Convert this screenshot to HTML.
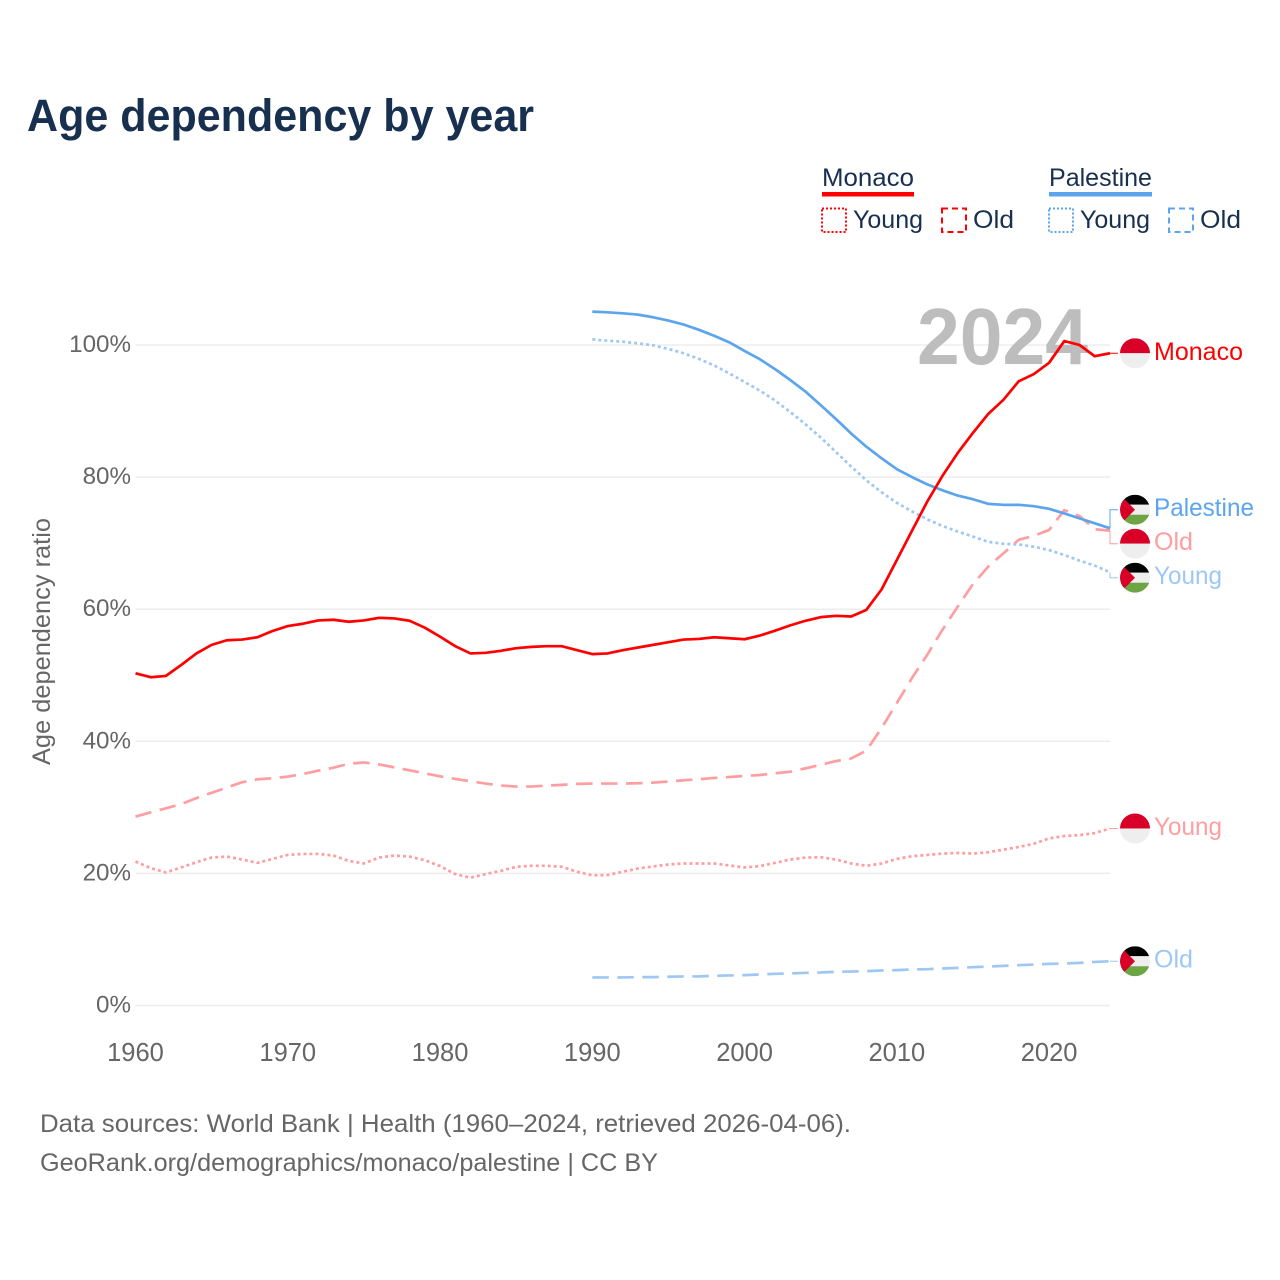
<!DOCTYPE html>
<html lang="en">
<head>
<meta charset="utf-8">
<title>Age dependency by year</title>
<style>
html,body{margin:0;padding:0;background:#fff;}
svg{display:block;font-family:"Liberation Sans",sans-serif;}
</style>
</head>
<body>
<svg id="chart" xmlns="http://www.w3.org/2000/svg" width="1280" height="1280" viewBox="0 0 1280 1280">
  <defs>
    <clipPath id="flag-clip"><circle cx="0" cy="0" r="15"/></clipPath>
  </defs>
  <rect x="0" y="0" width="1280" height="1280" fill="#fff"/>
  <text x="27" y="131" font-size="45" font-weight="700" fill="#18304f" textLength="507" lengthAdjust="spacingAndGlyphs">Age dependency by year</text>

  <g font-size="25" fill="#18304f">
    <g>
      <text x="822" y="186" textLength="92" lengthAdjust="spacingAndGlyphs">Monaco</text>
      <rect x="822" y="192" width="92" height="4.5" fill="#ff0000"/>
    </g>
    <g>
      <rect x="822" y="208.500" width="24" height="23.500" fill="none" stroke="#ff0000" stroke-width="2" stroke-dasharray="2 2"/>
      <text x="853" y="228" textLength="70" lengthAdjust="spacingAndGlyphs">Young</text>
    </g>
    <g>
      <rect x="942" y="208.500" width="24" height="23.500" fill="none" stroke="#ff0000" stroke-width="2" stroke-dasharray="6 4"/>
      <text x="973" y="228" textLength="41" lengthAdjust="spacingAndGlyphs">Old</text>
    </g>
    <g>
      <text x="1049" y="186" textLength="103" lengthAdjust="spacingAndGlyphs">Palestine</text>
      <rect x="1049" y="192" width="103" height="4.5" fill="#5ca5ee"/>
    </g>
    <g>
      <rect x="1049" y="208.500" width="24" height="23.500" fill="none" stroke="#5ca5ee" stroke-width="2" stroke-dasharray="2 2"/>
      <text x="1080" y="228" textLength="70" lengthAdjust="spacingAndGlyphs">Young</text>
    </g>
    <g>
      <rect x="1169" y="208.500" width="24" height="23.500" fill="none" stroke="#5ca5ee" stroke-width="2" stroke-dasharray="6 4"/>
      <text x="1200" y="228" textLength="41" lengthAdjust="spacingAndGlyphs">Old</text>
    </g>
  </g>

  <g id="grid"></g>
  <text x="917" y="364" font-size="80" font-weight="700" fill="#bdbdbd" textLength="171" lengthAdjust="spacingAndGlyphs">2024</text>
  <g id="y-ticks"></g>
  <g id="x-ticks"></g>
  <text transform="translate(50 641.500) rotate(-90)" text-anchor="middle" font-size="25" fill="#666" textLength="247" lengthAdjust="spacingAndGlyphs">Age dependency ratio</text>
  <g id="lines"></g>
  <g id="labels"></g>

  <text x="40" y="1132" font-size="25" fill="#666" textLength="811" lengthAdjust="spacingAndGlyphs">Data sources: World Bank | Health (1960–2024, retrieved 2026-04-06).</text>
  <text x="40" y="1171" font-size="25" fill="#666" textLength="618" lengthAdjust="spacingAndGlyphs">GeoRank.org/demographics/monaco/palestine | CC BY</text>
</svg>
<script>
const monacoFirstYear = 1960;
const palestineFirstYear = 1990;
const xTickLabels = [1960, 1970, 1980, 1990, 2000, 2010, 2020];
const yTickLabels = [0, 20, 40, 60, 80, 100];

const monacoTotal = [
  50.3,49.7,49.9,51.55,53.3,54.6,55.3,55.4,55.75,56.7,
  57.45,57.8,58.3,58.4,58.1,58.3,58.7,58.6,58.25,57.2,
  55.85,54.4,53.3,53.4,53.7,54.1,54.3,54.4,54.4,53.8,
  53.2,53.3,53.8,54.2,54.6,55.0,55.4,55.5,55.75,55.6,
  55.45,56.0,56.75,57.55,58.25,58.8,59.0,58.9,59.9,63.0,
  67.45,71.9,76.3,80.2,83.65,86.7,89.55,91.7,94.5,95.6,
  97.3,100.6,100.0,98.3,98.75
];
const monacoYoung = [
  21.8,20.8,20.15,20.9,21.7,22.4,22.55,22.1,21.6,22.2,
  22.8,22.95,22.95,22.7,21.9,21.5,22.4,22.7,22.55,22.0,
  21.1,19.9,19.35,19.9,20.4,21.0,21.15,21.15,21.0,20.25,
  19.7,19.75,20.25,20.75,21.05,21.35,21.5,21.5,21.5,21.2,
  20.9,21.1,21.6,22.1,22.4,22.45,22.1,21.5,21.15,21.5,
  22.2,22.6,22.8,23.0,23.1,23.0,23.2,23.6,24.0,24.5,
  25.3,25.65,25.8,26.1,26.8
];
const monacoOld = [
  28.6,29.25,29.85,30.5,31.4,32.2,33.0,33.8,34.25,34.4,
  34.65,35.05,35.55,36.0,36.6,36.8,36.5,36.05,35.6,35.15,
  34.7,34.3,33.95,33.6,33.3,33.15,33.15,33.3,33.4,33.55,
  33.6,33.6,33.6,33.65,33.75,33.9,34.1,34.25,34.45,34.6,
  34.75,34.9,35.15,35.4,35.9,36.45,37.0,37.4,38.6,42.0,
  45.8,49.6,53.1,56.9,60.4,63.8,66.45,68.45,70.5,71.1,
  72.0,75.0,74.1,72.1,71.9
];
const palestineTotal = [
  105.05,104.95,104.8,104.6,104.2,103.7,103.1,102.3,101.4,100.4,
  99.1,97.85,96.35,94.7,92.95,90.9,88.8,86.6,84.6,82.85,
  81.2,80.0,78.9,78.0,77.2,76.65,75.95,75.8,75.8,75.6,
  75.2,74.5,73.75,73.0,72.25
];
const palestineYoung = [
  100.85,100.65,100.5,100.25,99.95,99.4,98.75,97.9,96.9,95.7,
  94.4,93.1,91.6,89.85,88.0,86.0,83.8,81.6,79.5,77.7,
  76.1,74.8,73.6,72.6,71.75,71.0,70.2,69.9,69.8,69.45,
  68.95,68.2,67.35,66.6,65.6
];
const palestineOld = [
  4.25,4.25,4.25,4.3,4.3,4.35,4.4,4.4,4.5,4.55,
  4.6,4.7,4.8,4.85,4.95,5.0,5.1,5.15,5.2,5.3,
  5.35,5.45,5.5,5.6,5.7,5.8,5.9,6.0,6.1,6.2,
  6.3,6.35,6.45,6.6,6.7
];

const NS = 'http://www.w3.org/2000/svg';
const plot = { left: 135.5, right: 1110, y0: 1005.5, y100: 345 };
function xScale(year) { return plot.left + (year - 1960) * (plot.right - plot.left) / 64; }
function yScale(v) { return plot.y0 + v * (plot.y100 - plot.y0) / 100; }
function make(tag, attrs, parent) {
  const el = document.createElementNS(NS, tag);
  for (const k in attrs) el.setAttribute(k, attrs[k]);
  parent.appendChild(el);
  return el;
}

const gridG = document.getElementById('grid');
const yTickG = document.getElementById('y-ticks');
yTickLabels.forEach(function (t) {
  const line = make('line', { x1: plot.left, x2: plot.right, y1: yScale(t), y2: yScale(t), stroke: '#eeeeee', 'stroke-width': 1.5 }, gridG);
  
  
  const lab = make('text', { x: 131, y: yScale(t) + 7, 'text-anchor': 'end', 'font-size': 24.2, fill: '#666' }, yTickG);
  lab.textContent = t + '%';
  
  
});

const xTickG = document.getElementById('x-ticks');
xTickLabels.forEach(function (t) {
  const lab = make('text', { x: xScale(t), y: 1061, 'text-anchor': 'middle', 'font-size': 25.5, fill: '#666' }, xTickG);
  lab.textContent = t;
  
  
});

const DOT = '3 3';
const DASH = '16.5 8.5';
const RED = '#ff0000', RED_L = '#ff9ea0', BLUE = '#5ca5ee', BLUE_L = '#9ec8f3';

const lineDefs = [
  { key: 'palestine-old-line', vals: palestineOld, first: palestineFirstYear, color: BLUE_L, dash: DASH },
  { key: 'palestine-young-line', vals: palestineYoung, first: palestineFirstYear, color: BLUE_L, dash: DOT },
  { key: 'monaco-young-line', vals: monacoYoung, first: monacoFirstYear, color: RED_L, dash: DOT },
  { key: 'monaco-old-line', vals: monacoOld, first: monacoFirstYear, color: RED_L, dash: DASH },
  { key: 'palestine-total-line', vals: palestineTotal, first: palestineFirstYear, color: BLUE, dash: null },
  { key: 'monaco-total-line', vals: monacoTotal, first: monacoFirstYear, color: RED, dash: null }
];

const linesG = document.getElementById('lines');
lineDefs.forEach(function (s) {
  const d = s.vals.map(function (v, i) {
    return (i ? 'L' : 'M') + xScale(s.first + i).toFixed(2) + ',' + yScale(v).toFixed(2);
  }).join(' ');
  const attrs = { d: d, fill: 'none', stroke: s.color, 'stroke-width': 2.7, 'stroke-linejoin': 'round' };
  if (s.dash) attrs['stroke-dasharray'] = s.dash;
  const p = make('path', attrs, linesG);
  
  
});

const labelDefs = [
  { key: 'monaco-total', text: 'Monaco', vals: monacoTotal, color: RED, flag: 'mc', w: 89 },
  { key: 'palestine-total', text: 'Palestine', vals: palestineTotal, color: BLUE, flag: 'ps', w: 100 },
  { key: 'monaco-old', text: 'Old', vals: monacoOld, color: RED_L, flag: 'mc', w: 39 },
  { key: 'palestine-young', text: 'Young', vals: palestineYoung, color: BLUE_L, flag: 'ps', w: 68 },
  { key: 'monaco-young', text: 'Young', vals: monacoYoung, color: RED_L, flag: 'mc', w: 68 },
  { key: 'palestine-old', text: 'Old', vals: palestineOld, color: BLUE_L, flag: 'ps', w: 39 }
];

/* Spread end labels: merge overlapping labels into evenly spaced, centred clusters */
const LABEL_GAP = 34;
labelDefs.forEach(function (l) { l.y0 = yScale(l.vals[l.vals.length - 1]); });
const sorted = labelDefs.slice().sort(function (a, b) { return a.y0 - b.y0; });
let clusters = sorted.map(function (l) { return { items: [l], center: l.y0 }; });
let merged = true;
while (merged) {
  merged = false;
  for (let i = 0; i < clusters.length - 1; i++) {
    const a = clusters[i], b = clusters[i + 1];
    const aEnd = a.center + (a.items.length - 1) * LABEL_GAP / 2;
    const bStart = b.center - (b.items.length - 1) * LABEL_GAP / 2;
    if (bStart - aEnd < LABEL_GAP) {
      const items = a.items.concat(b.items);
      const center = items.reduce(function (sum, it) { return sum + it.y0; }, 0) / items.length;
      clusters.splice(i, 2, { items: items, center: center });
      merged = true;
      break;
    }
  }
}
clusters.forEach(function (c) {
  c.items.forEach(function (it, i) {
    it.y = c.center + (i - (c.items.length - 1) / 2) * LABEL_GAP;
  });
});

function drawFlag(parent, type, cx, cy, name) {
  const g = make('g', { transform: 'translate(' + cx + ' ' + cy + ')', 'clip-path': 'url(#flag-clip)' }, parent);
  
  
  if (type === 'mc') {
    make('rect', { x: -15, y: -15, width: 30, height: 15, fill: '#d80027' }, g);
    make('rect', { x: -15, y: 0, width: 30, height: 15, fill: '#eeeeee' }, g);
  } else {
    make('rect', { x: -15, y: -15, width: 30, height: 10, fill: '#000000' }, g);
    make('rect', { x: -15, y: -5, width: 30, height: 10, fill: '#eeeeee' }, g);
    make('rect', { x: -15, y: 5, width: 30, height: 10, fill: '#6da544' }, g);
    make('polygon', { points: '-15,-15 0,0 -15,15', fill: '#d80027' }, g);
  }
}

const labelsG = document.getElementById('labels');
labelDefs.forEach(function (l) {
  const conn = make('path', {
    d: 'M' + plot.right + ',' + l.y0.toFixed(2) + ' L' + plot.right + ',' + l.y.toFixed(2) + ' L1118,' + l.y.toFixed(2),
    fill: 'none', stroke: l.color, 'stroke-width': 1
  }, labelsG);
  
  
  drawFlag(labelsG, l.flag, 1135, l.y, l.key + '-flag');
  const t = make('text', {
    x: 1154, y: l.y + 6.5, 'font-size': 25, fill: l.color,
    textLength: l.w, lengthAdjust: 'spacingAndGlyphs'
  }, labelsG);
  t.textContent = l.text;
  
  
});
</script>
</body>
</html>
